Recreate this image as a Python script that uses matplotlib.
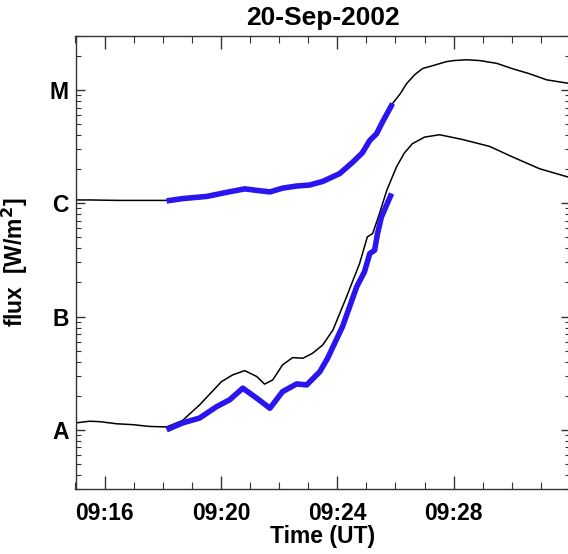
import pandas as pd
import matplotlib
matplotlib.use("Agg")
import matplotlib.pyplot as plt
import matplotlib.dates as mdates
from matplotlib.ticker import LogLocator, FixedLocator, FixedFormatter, NullFormatter

plt.rcParams['font.family'] = ['Liberation Sans', 'DejaVu Sans']
plt.rcParams['font.weight'] = 'bold'

DAY = "2002-09-20 "

# GOES long channel (1-8 A), black
long_time = ["09:15:00", "09:15:30", "09:16:30", "09:17:30", "09:18:08", "09:19:31",
             "09:20:49", "09:21:41", "09:22:36", "09:23:30", "09:24:05", "09:24:32",
             "09:25:07", "09:25:33", "09:25:54", "09:26:10", "09:26:23", "09:26:40",
             "09:26:56", "09:27:10", "09:27:45", "09:28:00", "09:28:27", "09:28:54",
             "09:29:29", "09:30:02", "09:30:37", "09:31:12", "09:31:55", "09:32:00"]
long_flux = [1.07e-6, 1.07e-6, 1.06e-6, 1.06e-6, 1.06e-6, 1.15e-6,
             1.34e-6, 1.26e-6, 1.42e-6, 1.56e-6, 1.83e-6, 2.31e-6,
             3.59e-6, 5.20e-6, 7.60e-6, 9.30e-6, 1.14e-5, 1.37e-5,
             1.55e-5, 1.61e-5, 1.78e-5, 1.82e-5, 1.85e-5, 1.82e-5,
             1.72e-5, 1.54e-5, 1.39e-5, 1.23e-5, 1.15e-5, 1.14e-5]

# GOES short channel (0.5-4 A), black
short_time = ["09:15:00", "09:15:29", "09:15:50", "09:16:25", "09:16:58", "09:17:33",
              "09:18:08", "09:18:41", "09:19:16", "09:20:01", "09:20:24", "09:20:49",
              "09:21:14", "09:21:30", "09:21:47", "09:22:07", "09:22:28", "09:22:49",
              "09:23:09", "09:23:30", "09:23:51", "09:24:19", "09:24:46", "09:25:02",
              "09:25:13", "09:25:27", "09:25:42", "09:26:02", "09:26:18", "09:26:35",
              "09:27:00", "09:27:31", "09:28:18", "09:29:14", "09:30:02", "09:30:57",
              "09:31:55", "09:32:00"]
short_flux = [1.15e-8, 1.19e-8, 1.18e-8, 1.13e-8, 1.11e-8, 1.07e-8,
              1.06e-8, 1.21e-8, 1.66e-8, 2.66e-8, 3.05e-8, 3.33e-8,
              2.95e-8, 2.53e-8, 2.76e-8, 3.74e-8, 4.34e-8, 4.28e-8,
              4.74e-8, 5.61e-8, 7.60e-8, 1.49e-7, 2.94e-7, 5.05e-7,
              5.41e-7, 8.11e-7, 1.30e-6, 2.09e-6, 2.77e-6, 3.36e-6,
              3.84e-6, 4.03e-6, 3.66e-6, 3.18e-6, 2.56e-6, 2.02e-6,
              1.71e-6, 1.70e-6]

# fitted curves, blue
fit_long_time = ["09:18:08", "09:18:41", "09:19:31", "09:20:12", "09:20:49", "09:21:14",
                 "09:21:41", "09:22:07", "09:22:36", "09:23:03", "09:23:30", "09:24:05",
                 "09:24:32", "09:24:52", "09:25:07", "09:25:21", "09:25:33", "09:25:54"]
fit_long_flux = [1.05e-6, 1.10e-6, 1.15e-6, 1.25e-6, 1.34e-6, 1.30e-6,
                 1.26e-6, 1.36e-6, 1.42e-6, 1.45e-6, 1.56e-6, 1.83e-6,
                 2.31e-6, 2.80e-6, 3.59e-6, 4.11e-6, 5.20e-6, 7.60e-6]

fit_short_time = ["09:18:08", "09:18:41", "09:19:16", "09:19:51", "09:20:18", "09:20:45",
                  "09:21:14", "09:21:41", "09:22:07", "09:22:36", "09:22:57", "09:23:24",
                  "09:23:40", "09:24:11", "09:24:40", "09:24:56", "09:25:07", "09:25:17",
                  "09:25:23", "09:25:31", "09:25:52"]
fit_short_flux = [1.00e-8, 1.15e-8, 1.27e-8, 1.60e-8, 1.84e-8, 2.33e-8,
                  1.90e-8, 1.55e-8, 2.17e-8, 2.54e-8, 2.49e-8, 3.26e-8,
                  4.28e-8, 8.20e-8, 1.83e-7, 2.48e-7, 3.60e-7, 3.85e-7,
                  5.41e-7, 7.57e-7, 1.22e-6]

class_levels = [1e-8, 1e-7, 1e-6, 1e-5]
class_labels = ["A", "B", "C", "M"]
time_ticks = ["09:16", "09:20", "09:24", "09:28"]


def to_dt(times):
    return pd.to_datetime([DAY + t for t in times])


fig = plt.figure(figsize=(5.68, 5.54), dpi=100)
ax = fig.add_axes([75.5 / 568, 65 / 554, 494.5 / 568, 453 / 554])

ax.plot(to_dt(long_time), long_flux, color='black', lw=1.1)
ax.plot(to_dt(short_time), short_flux, color='black', lw=1.1)
ax.plot(to_dt(fit_long_time), fit_long_flux, color='#2a14f0', lw=4.0, solid_capstyle='butt')
ax.plot(to_dt(fit_short_time), fit_short_flux, color='#2a14f0', lw=4.0, solid_capstyle='butt')

ax.set_yscale('log')
ax.set_ylim(3e-9, 3e-5)
ax.set_xlim(pd.Timestamp(DAY + "09:15:00"), pd.Timestamp(DAY + "09:32:00"))

ax.yaxis.set_major_locator(FixedLocator(class_levels))
ax.yaxis.set_major_formatter(FixedFormatter(class_labels))
ax.yaxis.set_minor_locator(LogLocator(base=10, subs=range(2, 10), numticks=20))
ax.yaxis.set_minor_formatter(NullFormatter())

ax.set_xticks(to_dt(time_ticks))
ax.xaxis.set_minor_locator(mdates.MinuteLocator())
ax.xaxis.set_major_formatter(mdates.DateFormatter('%H:%M'))

edge = '#333333'
for sp in ax.spines.values():
    sp.set_color(edge)
    sp.set_linewidth(1.0)

ax.tick_params(axis='x', which='major', direction='in', length=9.5, width=1.0,
               top=True, bottom=True, color=edge, labelsize=16.5, pad=9)
ax.tick_params(axis='x', which='minor', direction='in', length=5, width=0.8,
               top=True, bottom=True, color=edge)
ax.tick_params(axis='y', which='major', direction='in', length=6.5, width=1.0,
               left=True, right=True, color=edge, labelsize=16.5, pad=5)
ax.tick_params(axis='y', which='minor', direction='in', length=3.6, width=0.8,
               left=True, right=True, color=edge)

for lbl in ax.get_xticklabels() + ax.get_yticklabels():
    lbl.set_fontweight('bold')

ax.set_title("20-Sep-2002", fontsize=19, fontweight='bold', pad=8)
ax.set_xlabel("Time (UT)", fontsize=16.5, fontweight='bold', labelpad=0)
ax.set_ylabel("flux  [W/m$^\\mathbf{2}$]", fontsize=16.5, fontweight='bold', labelpad=14)

fig.savefig("out.png", dpi=100)
